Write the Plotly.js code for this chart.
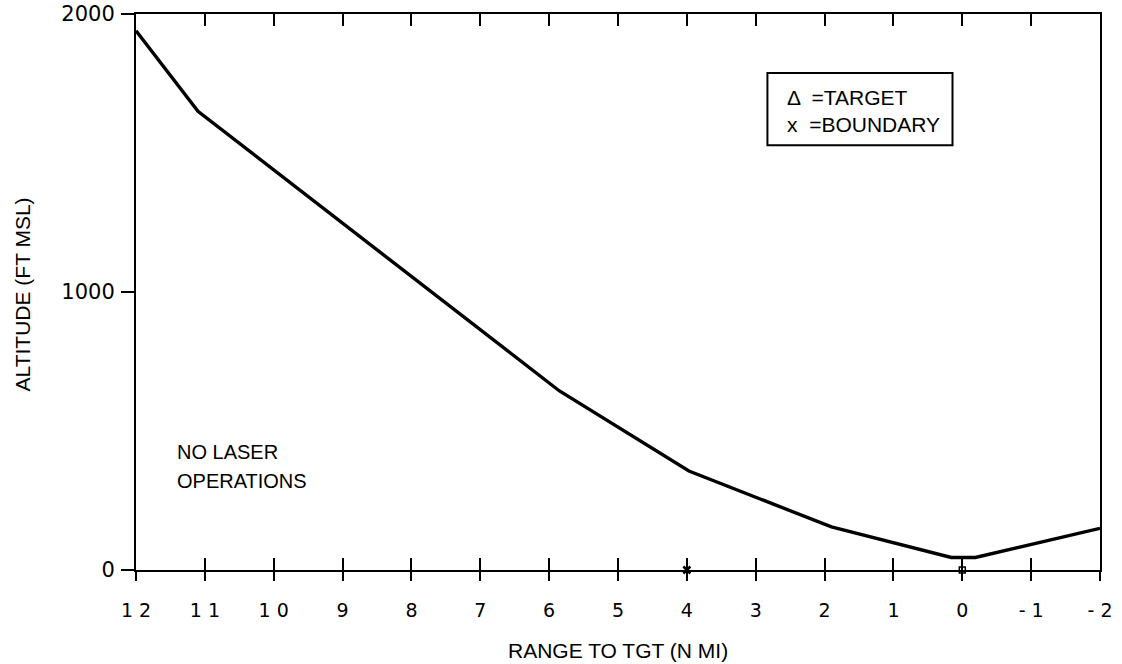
<!DOCTYPE html>
<html>
<head>
<meta charset="utf-8">
<script src="https://cdn.plot.ly/plotly-3.0.1.min.js"></script>
<style>html,body{margin:0;padding:0;background:#fff;}#chart{width:1122px;height:664px;}</style>
</head>
<body>
<div id="chart"></div>
<script>
// Data
const rangeNmi = [12, 11.1, 5.85, 3.97, 1.9, 0.16, -0.19, -2];
const altitudeFt = [1940, 1650, 644, 356, 155, 45, 45, 150];
const targetRange = [0];
const targetAlt = [0];
const boundaryRange = [4];
const boundaryAlt = [0];
const xTickVals = [12, 11, 10, 9, 8, 7, 6, 5, 4, 3, 2, 1, 0, -1, -2];
const xTickText = ["1 2", "1 1", "1 0", "9", "8", "7", "6", "5", "4", "3", "2", "1", "0", "- 1", "- 2"];
const yTickVals = [0, 1000, 2000];
const yTickText = ["0", "1000", "2000"];
const xTitle = "RANGE TO TGT (N MI)";
const yTitle = "ALTITUDE (FT MSL)";
const legendLines = ["\u0394  =TARGET", "x  =BOUNDARY"];
const noteLines = ["NO LASER", "OPERATIONS"];

const FONT = "Liberation Sans, Arial, Helvetica, sans-serif";
const TICKFONT = "DejaVu Sans, Verdana, sans-serif";

const traces = [
  {
    x: rangeNmi, y: altitudeFt, type: "scatter", mode: "lines",
    line: {color: "#000", width: 3.4}, xaxis: "x", yaxis: "y",
    hoverinfo: "skip", showlegend: false
  },
  {
    x: boundaryRange, y: boundaryAlt, type: "scatter", mode: "markers",
    marker: {symbol: "x-thin", size: 7, line: {color: "#000", width: 2.5}},
    xaxis: "x2", yaxis: "y", cliponaxis: false, showlegend: false, hoverinfo: "skip"
  },
  {
    x: targetRange, y: targetAlt, type: "scatter", mode: "markers",
    marker: {symbol: "square-open", size: 6, color: "#000", line: {color: "#000", width: 1.5}},
    xaxis: "x2", yaxis: "y", cliponaxis: false, showlegend: false, hoverinfo: "skip"
  }
];

const annotations = [
  {xref: "paper", yref: "paper", x: 0.673, y: 0.850, xanchor: "left", yanchor: "middle",
   text: legendLines[0], showarrow: false, font: {family: FONT, size: 21, color: "#000"}},
  {xref: "paper", yref: "paper", x: 0.673, y: 0.801, xanchor: "left", yanchor: "middle",
   text: legendLines[1], showarrow: false, font: {family: FONT, size: 21, color: "#000"}},
  {xref: "paper", yref: "paper", x: 0.0405, y: 0.212, xanchor: "left", yanchor: "middle",
   text: noteLines[0], showarrow: false, font: {family: FONT, size: 20, color: "#000"}},
  {xref: "paper", yref: "paper", x: 0.0405, y: 0.160, xanchor: "left", yanchor: "middle",
   text: noteLines[1], showarrow: false, font: {family: FONT, size: 20, color: "#000"}},
  {xref: "paper", yref: "paper", x: 0.5, y: -0.144, xanchor: "center", yanchor: "middle",
   text: xTitle, showarrow: false, font: {family: FONT, size: 21, color: "#000"}},
  {xref: "paper", yref: "paper", x: -0.118, y: 0.496, xanchor: "center", yanchor: "middle",
   text: yTitle, textangle: -90, showarrow: false, font: {family: FONT, size: 21, color: "#000"}}
];

const layout = {
  width: 1122, height: 664,
  margin: {l: 136, r: 22, t: 14, b: 94},
  paper_bgcolor: "#fff", plot_bgcolor: "#fff",
  font: {family: FONT, color: "#000", size: 20},
  showlegend: false,
  xaxis: {
    range: [12, -2], tickmode: "array", tickvals: xTickVals, ticktext: xTickText,
    ticks: "inside", ticklen: 12, tickwidth: 2, tickcolor: "#000",
    showline: true, linewidth: 2, linecolor: "#000", mirror: "ticks",
    showticklabels: false, showgrid: false, zeroline: false, fixedrange: true
  },
  xaxis2: {
    overlaying: "x", anchor: "y", side: "bottom",
    range: [12, -2], tickmode: "array", tickvals: xTickVals, ticktext: xTickText,
    ticks: "outside", ticklen: 10, tickwidth: 2, tickcolor: "#000",
    showline: false, showgrid: false, zeroline: false,
    tickfont: {family: TICKFONT, size: 19, color: "#000"}, ticklabelstandoff: 13,
    fixedrange: true
  },
  yaxis: {
    range: [0, 2000], tickmode: "array", tickvals: yTickVals, ticktext: yTickText,
    ticks: "outside", ticklen: 13, tickwidth: 2, tickcolor: "#000",
    showline: true, linewidth: 2, linecolor: "#000", mirror: true,
    showgrid: false, zeroline: false,
    tickfont: {family: TICKFONT, size: 21, color: "#000"}, ticklabelstandoff: 2,
    fixedrange: true
  },
  shapes: [
    {type: "rect", xref: "paper", yref: "paper", x0: 0.655, x1: 0.847, y0: 0.764, y1: 0.894,
     line: {color: "#000", width: 2}, fillcolor: "rgba(0,0,0,0)"}
  ],
  annotations: annotations
};

Plotly.newPlot("chart", traces, layout, {staticPlot: true, displayModeBar: false});
</script>
</body>
</html>
